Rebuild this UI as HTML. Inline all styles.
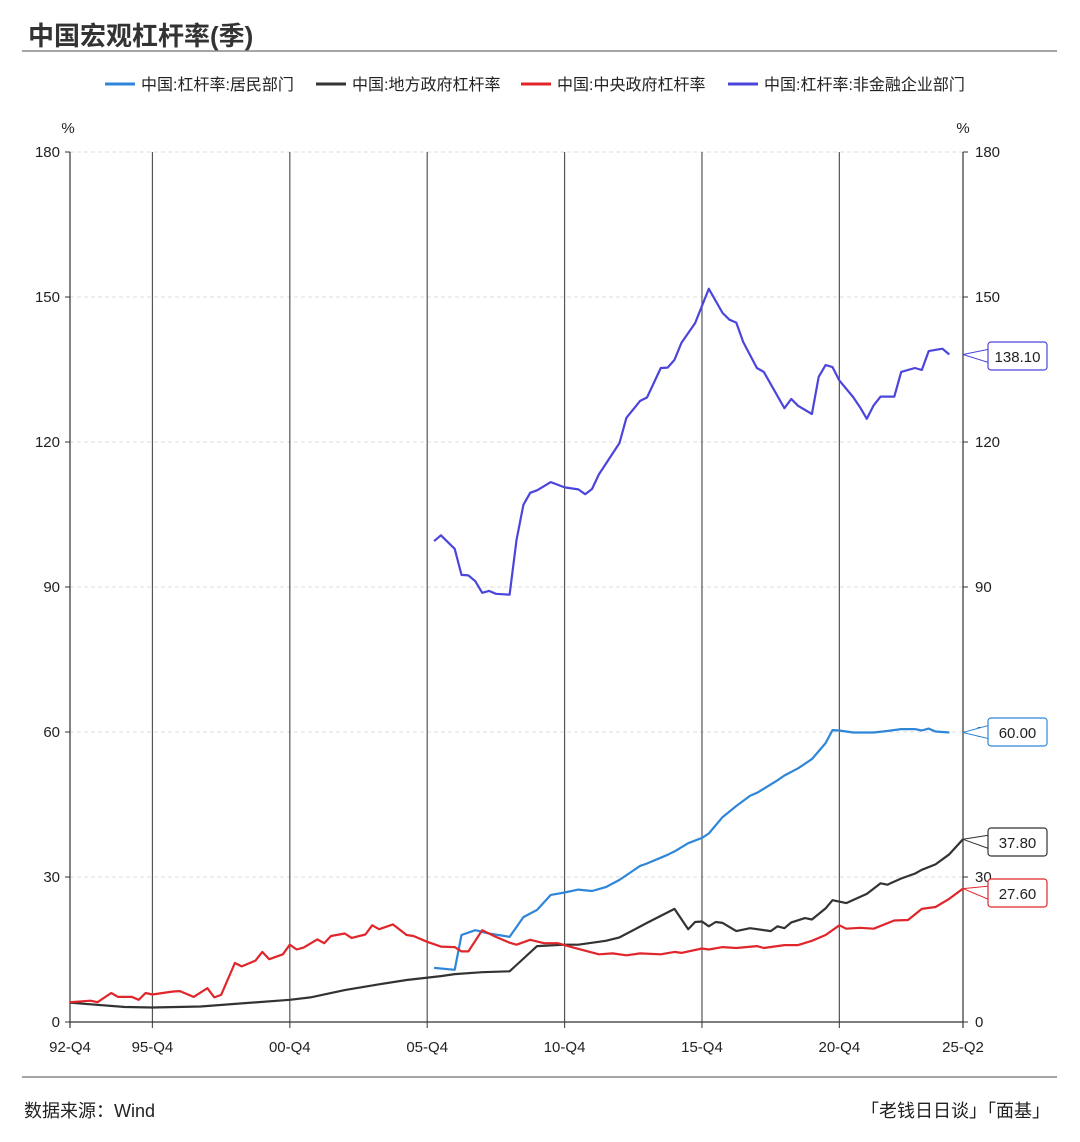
<!DOCTYPE html>
<html><head><meta charset="utf-8"><style>
body{margin:0;background:#fff;width:1080px;height:1137px;overflow:hidden;font-family:"Liberation Sans","Noto Sans CJK SC",sans-serif;}
</style></head><body>
<svg id="chart" width="1080" height="1137" xmlns="http://www.w3.org/2000/svg" font-family="Liberation Sans, Noto Sans CJK SC, sans-serif">
<text x="28" y="45" font-size="26" font-weight="bold" fill="#333">中国宏观杠杆率(季)</text>
<line x1="22" y1="51" x2="1057" y2="51" stroke="#888" stroke-width="1.5"/>
<line x1="22" y1="1077" x2="1057" y2="1077" stroke="#888" stroke-width="1.5"/>
<text x="24" y="1117" font-size="18" fill="#222">数据来源：Wind</text>
<text x="1050" y="1117" font-size="18" fill="#222" text-anchor="end">「老钱日日谈」「面基」</text>
<g id="legend"></g>
<g id="grid"></g>
<g id="series"></g>
<g id="labels"></g>
</svg>
<script>
const xTickLabels=["92-Q4","95-Q4","00-Q4","05-Q4","10-Q4","15-Q4","20-Q4","25-Q2"];
const xTickQ=[0,12,32,52,72,92,112,130];
const yTicks=[0,30,60,90,120,150,180];
const seriesNames=["中国:杠杆率:居民部门","中国:地方政府杠杆率","中国:中央政府杠杆率","中国:杠杆率:非金融企业部门"];
const seriesColors=["#2f86d8","#333333","#e0262b","#4b45dc"];
const householdQ=[53,56,57,59,61,64,66,68,70,72,74,76,78,80,83,84,87,88,90,92,93,95,97,99,100,103,104,106,108,110,111,112,114,117,119,121,123,124,125,126,128];
const householdV=[11.2,10.8,18,19,18.3,17.6,21.7,23.2,26.3,26.8,27.4,27.1,27.9,29.4,32.3,32.8,34.6,35.3,37,38.1,39,42.4,44.7,46.8,47.4,50,51,52.5,54.4,57.7,60.4,60.3,59.9,59.9,60.2,60.6,60.6,60.3,60.7,60.1,59.9];
const localQ=[0,8,12,19,32,35,40,45,49,54,56,60,64,65,68,72,74,78,80,84,88,90,91,92,93,94,95,97,99,102,103,104,105,107,108,110,111,113,116,118,119,121,123,124,126,128,130];
const localV=[4,3.1,3,3.2,4.6,5.1,6.6,7.8,8.7,9.5,9.9,10.3,10.5,11.8,15.7,16,16,16.8,17.5,20.5,23.4,19.2,20.7,20.8,19.8,20.7,20.5,18.8,19.4,18.8,19.8,19.4,20.6,21.5,21.2,23.5,25.2,24.6,26.5,28.7,28.4,29.7,30.7,31.5,32.6,34.7,37.8];
const centralQ=[0,3,4,6,7,9,10,11,12,15,16,18,20,21,22,24,25,27,28,29,31,32,33,34,36,37,38,40,41,43,44,45,47,49,50,52,54,56,57,58,60,62,64,65,67,69,71,73,77,79,81,83,86,88,89,92,93,95,97,100,101,104,106,108,110,112,113,115,117,120,122,124,126,128,130];
const centralV=[4.1,4.4,4.1,6,5.2,5.2,4.6,6,5.7,6.3,6.4,5.2,7,5.1,5.6,12.2,11.5,12.7,14.5,13,14,16,15,15.4,17.1,16.3,17.8,18.3,17.4,18.1,20,19.2,20.2,18,17.8,16.6,15.6,15.5,14.6,14.6,19,17.6,16.4,16,17,16.3,16.3,15.5,14,14.2,13.8,14.2,14,14.5,14.3,15.2,15,15.5,15.3,15.7,15.3,15.9,15.9,16.8,18,20,19.3,19.5,19.3,21,21.1,23.4,23.8,25.5,27.6];
const corpQ=[53,54,56,57,58,59,60,61,62,64,65,66,67,68,70,72,74,75,76,77,80,81,83,84,86,87,88,89,91,93,95,96,97,98,100,101,104,105,106,108,109,110,111,112,114,115,116,117,118,120,121,123,124,125,127,128];
const corpV=[99.5,100.7,97.9,92.5,92.4,91.2,88.8,89.2,88.6,88.4,99.7,107,109.5,110,111.7,110.6,110.2,109.2,110.3,113.3,119.8,125,128.5,129.2,135.3,135.4,137,140.5,144.6,151.7,146.7,145.3,144.7,140.7,135.3,134.5,127,128.9,127.5,125.8,133.5,135.9,135.5,132.7,129.3,127.2,124.8,127.6,129.4,129.4,134.5,135.3,134.9,138.8,139.3,138.1];
const lastLabels=["60.00","37.80","27.60","138.10"];

const NS="http://www.w3.org/2000/svg";
const X0=70,X1=963,Y0=1022,Y1=152,QMAX=130,VMAX=180;
const xs=q=>X0+(X1-X0)*q/QMAX;
const ys=v=>Y0-(Y0-Y1)*v/VMAX;
function mk(tag,attrs,parent,text){const e=document.createElementNS(NS,tag);for(const k in attrs)e.setAttribute(k,attrs[k]);if(text!==undefined)e.textContent=text;parent.appendChild(e);return e;}
const grid=document.getElementById('grid');
yTicks.forEach((t,i)=>{
  if(t>0){const g=mk('line',{x1:X0,x2:X1,y1:ys(t),y2:ys(t),stroke:'#ddd','stroke-dasharray':'4,3'},grid);
  
  }
  const l=mk('text',{x:X0-10,y:ys(t)+5,'font-size':15,'text-anchor':'end',fill:'#222'},grid,String(t));
  
  
  const r=mk('text',{x:X1+12,y:ys(t)+5,'font-size':15,fill:'#222'},grid,String(t));
  
  
  mk('line',{x1:X0-5,x2:X0,y1:ys(t),y2:ys(t),stroke:'#333'},grid);
  mk('line',{x1:X1,x2:X1+5,y1:ys(t),y2:ys(t),stroke:'#333'},grid);
});
xTickQ.forEach((q,i)=>{
  const v=mk('line',{x1:xs(q),x2:xs(q),y1:Y1,y2:Y0+6,stroke:(i==0||i==xTickQ.length-1)?'#333':'#555','stroke-width':1.2},grid);
  
  
  const l=mk('text',{x:xs(q),y:Y0+30,'font-size':15,'text-anchor':'middle',fill:'#222'},grid,xTickLabels[i]);
  
  
});
mk('line',{x1:X0,x2:X1,y1:Y0,y2:Y0,stroke:'#333','stroke-width':1.2},grid);
const pl=mk('text',{x:X0-2,y:133,'font-size':15,'text-anchor':'middle',fill:'#222'},grid,'%');


const pr=mk('text',{x:X1,y:133,'font-size':15,'text-anchor':'middle',fill:'#222'},grid,'%');



const sg=document.getElementById('series');
const allQ=[householdQ,localQ,centralQ,corpQ],allV=[householdV,localV,centralV,corpV];
const snames=['household-line','local-gov-line','central-gov-line','corporate-line'];
allQ.forEach((Q,i)=>{
  const d=Q.map((q,j)=>(j?'L':'M')+xs(q).toFixed(1)+','+ys(allV[i][j]).toFixed(1)).join(' ');
  const p=mk('path',{d:d,fill:'none',stroke:seriesColors[i],'stroke-width':2.2,'stroke-linejoin':'round'},sg);
  
  
});
const lg=document.getElementById('labels');
const boxY=[732,842,893,356];
allV.forEach((V,i)=>{
  const v=V[V.length-1],yy=ys(v),by=boxY[i];
  mk('polyline',{points:`${X1},${yy} ${990},${by-7} ${990},${by+7} ${X1},${yy}`,fill:'#fff',stroke:seriesColors[i],'stroke-width':1},lg);
  const r=mk('rect',{x:988,y:by-14,width:59,height:28,rx:3,fill:'#fff',stroke:seriesColors[i],'stroke-width':1.2},lg);
  
  
  mk('rect',{x:989,y:by-7,width:3,height:14,fill:'#fff'},lg);
  const t=mk('text',{x:1017.5,y:by+6,'font-size':15,'text-anchor':'middle',fill:'#222'},lg,lastLabels[i]);
  
  
});
const leg=document.getElementById('legend');
const legX=[105,316,521,728];
seriesNames.forEach((n,i)=>{
  const g=mk('g',{},leg);
  
  
  mk('line',{x1:legX[i],x2:legX[i]+30,y1:84,y2:84,stroke:seriesColors[i],'stroke-width':3},g);
  mk('text',{x:legX[i]+36,y:90,'font-size':16,fill:'#222'},g,n);
});
</script>
</body></html>
